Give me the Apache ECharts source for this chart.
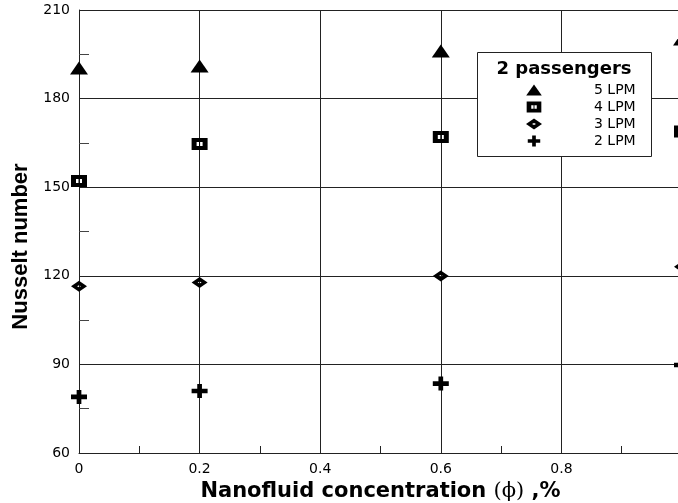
<!DOCTYPE html>
<html>
<head>
<meta charset="utf-8">
<script src="https://cdn.jsdelivr.net/npm/echarts@6/dist/echarts.min.js"></script>
<style>
  html, body { margin: 0; padding: 0; background: #fff; }
  #chart { width: 678px; height: 503px; }
</style>
</head>
<body>
<div id="chart"></div>
<script>
// Nanofluid concentration (%) at which the Nusselt number was measured
const concentration = [0, 0.2, 0.6, 1.0];

// Nusselt number for each coolant flow rate (2 passengers)
const nu5LPM = [190.4, 191.0, 196.1, 200.2];
const nu4LPM = [152.1, 164.6, 167.0, 168.9];
const nu3LPM = [116.5, 117.7, 119.9, 123.1];
const nu2LPM = [79.0, 81.0, 83.5, 89.8];

const seriesNames = ['5 LPM', '4 LPM', '3 LPM', '2 LPM'];

// Axis ranges and tick steps
const xMin = 0, xMax = 1, xStep = 0.2;
const yMin = 60, yMax = 210, yStep = 30;

// Marker shapes: filled triangle, hollow-centred square, hollow-centred diamond, bold plus
const SYM_TRIANGLE = 'path://M8.5,0 L17,12 L0,12 Z';
const SYM_SQUARE = 'path://M0,0 H16 V12 H0 Z M5,4 V8 H7.5 V4 Z M8.5,4 V8 H11 V4 Z';
const SYM_DIAMOND = 'path://M8,0 L16,5.5 L8,11 L0,5.5 Z M8,4.5 L6,5.5 L8,6.5 L10,5.5 Z';
const SYM_PLUS = 'path://M0,5 H6 V0 H11 V5 H17 V10 H11 V15 H6 V10 H0 Z';

const chart = echarts.init(document.getElementById('chart'), null, { renderer: 'canvas' });

function pairs(ys) {
  return concentration.map((x, i) => [x, ys[i]]);
}

function scatter(name, ys, symbol, size) {
  return {
    name: name,
    type: 'scatter',
    data: pairs(ys),
    symbol: symbol,
    symbolSize: size,
    clip: false,
    itemStyle: { color: '#000', opacity: 1 },
    emphasis: { disabled: true },
    z: 3
  };
}

const gridLine = { color: '#222', width: 1 };

const option = {
  backgroundColor: '#fff',
  animation: false,
  // the plot runs 4px past the right edge of the canvas, so the 1.0 column is cut off
  grid: {
    left: 79, top: 10, width: 603, height: 443,
    containLabel: false,
    outerBoundsMode: 'none'
  },
  xAxis: {
    type: 'value',
    min: xMin,
    max: xMax,
    interval: xStep,
    name: 'Nanofluid concentration {s|(\u03D5)} ,%',
    nameLocation: 'middle',
    nameGap: 26,
    nameTextStyle: {
      fontFamily: 'DejaVu Sans',
      fontWeight: 'bold',
      fontSize: 21,
      color: '#000',
      rich: {
        s: { fontFamily: 'DejaVu Serif', fontWeight: 'normal', fontSize: 21, color: '#000' }
      }
    },
    axisLine: { show: true, lineStyle: { color: '#222', width: 1 } },
    axisTick: { show: true, inside: true, length: 7, lineStyle: { color: '#222' } },
    minorTick: { show: true, splitNumber: 2, length: 7, lineStyle: { color: '#222', width: 1 } },
    splitLine: { show: true, lineStyle: gridLine },
    axisLabel: {
      margin: 9,
      showMaxLabel: false,
      fontFamily: 'DejaVu Sans',
      fontSize: 14,
      color: '#000'
    }
  },
  yAxis: {
    type: 'value',
    min: yMin,
    max: yMax,
    interval: yStep,
    name: 'Nusselt number',
    nameLocation: 'middle',
    nameRotate: 90,
    nameGap: 46,
    nameTextStyle: {
      fontFamily: 'Liberation Sans',
      fontWeight: 'bold',
      fontSize: 22,
      color: '#000',
      padding: [0, 30, 0, 0]
    },
    axisLine: { show: true, lineStyle: { color: '#222', width: 1 } },
    axisTick: { show: true, inside: true, length: 10, lineStyle: { color: '#222' } },
    minorTick: { show: true, splitNumber: 2, length: 10, lineStyle: { color: '#444', width: 1 } },
    splitLine: { show: true, lineStyle: gridLine },
    axisLabel: {
      margin: 9,
      fontFamily: 'DejaVu Sans',
      fontSize: 14,
      color: '#000'
    }
  },
  legend: {
    data: seriesNames,
    orient: 'vertical',
    left: 526,
    top: 83,
    padding: 0,
    itemWidth: 18,
    itemHeight: 11,
    itemGap: 3,
    selectedMode: false,
    z: 20,
    textStyle: {
      fontFamily: 'DejaVu Sans',
      fontSize: 14,
      lineHeight: 12,
      color: '#000',
      padding: [0, 0, 0, 46]
    }
  },
  graphic: [
    {
      type: 'rect',
      z: 10,
      shape: { x: 477.5, y: 52.5, width: 174, height: 104 },
      style: { fill: '#fff', stroke: '#222', lineWidth: 1 }
    },
    {
      type: 'text',
      z: 11,
      x: 564,
      y: 69,
      style: {
        text: '2 passengers',
        fontFamily: 'DejaVu Sans',
        fontWeight: 'bold',
        fontSize: 18,
        fill: '#000',
        align: 'center',
        verticalAlign: 'middle'
      }
    }
  ],
  series: [
    scatter(seriesNames[0], nu5LPM, SYM_TRIANGLE, [18, 13]),
    scatter(seriesNames[1], nu4LPM, SYM_SQUARE, [16, 12]),
    scatter(seriesNames[2], nu3LPM, SYM_DIAMOND, [16, 11]),
    scatter(seriesNames[3], nu2LPM, SYM_PLUS, [16, 14])
  ]
};

chart.setOption(option);
</script>
</body>
</html>
